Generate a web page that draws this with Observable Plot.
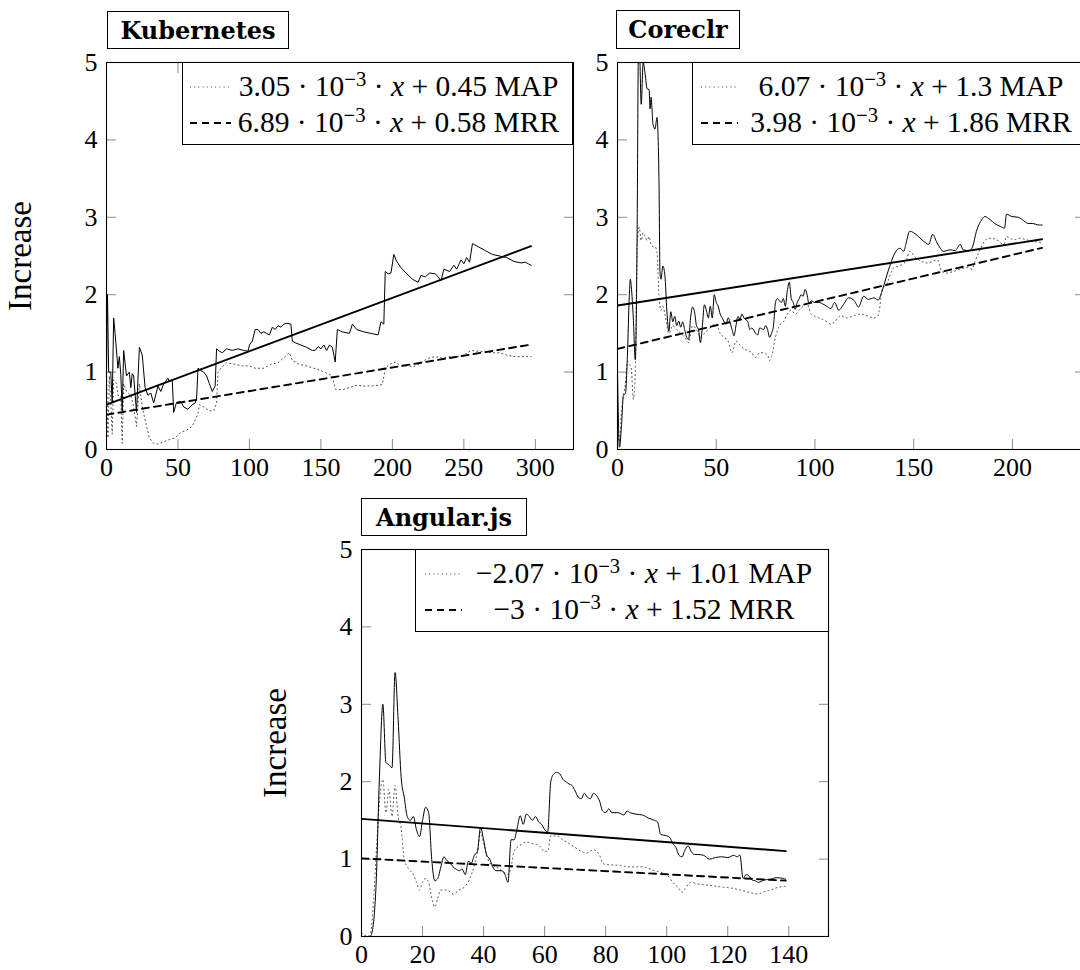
<!DOCTYPE html>
<html><head><meta charset="utf-8">
<script src="https://cdn.jsdelivr.net/npm/d3@7"></script>
<script src="https://cdn.jsdelivr.net/npm/@observablehq/plot@0.6"></script>
<style>
html,body{margin:0;padding:0;overflow:hidden;background:#fff;}
#root{position:relative;width:1080px;height:970px;overflow:hidden;font-family:"Liberation Serif",serif;color:#000;}
.panel{position:absolute;width:600px;height:500px;}
.panel g[aria-label="y-axis label"] text{font-size:33px;}
.title{position:absolute;border:1.2px solid #000;font-family:"DejaVu Serif",serif;font-weight:bold;font-size:24px;display:flex;align-items:center;justify-content:center;box-sizing:border-box;background:#fff;}
.legend{position:absolute;border:1.2px solid #000;background:#fff;box-sizing:border-box;font-size:29.5px;}
.legend .sample{position:absolute;}
.legend .txt{position:absolute;text-align:center;white-space:nowrap;line-height:36px;height:36px;}
.legend sup{font-size:0.7em;vertical-align:0;position:relative;top:-0.5em;line-height:0;}
</style>
</head><body><div id="root"></div>
<script>
// ---------- data ----------
const kubernetesTicks = [0, 50, 100, 150, 200, 250, 300];
const coreclrTicks = [0, 50, 100, 150, 200];
const angularTicks = [0, 20, 40, 60, 80, 100, 120, 140];
const yTicks = [0, 1, 2, 3, 4, 5];

const kubernetesMRR = [[0,1.0],[0.7,2.0],[1.5,1.0],[3,1.0],[4,0.6],[5,1.7],[6,1.5],[8,1.05],[9,1.2],[10,0.97],[11,0.5],[12,1.28],[14,0.95],[16,1.0],[17,0.8],[18,0.98],[19,0.95],[21,0.48],[23,1.32],[25,1.22],[27,0.8],[29,0.7],[31,0.73],[33,0.6],[36,0.82],[38,0.75],[40,0.85],[43,0.92],[44,0.88],[46,0.9],[47,0.48],[49,0.61],[52,0.62],[54,0.55],[57,0.52],[60,0.58],[62,0.6],[63,0.65],[64,1.05],[66,1.02],[68,1.0],[70,0.95],[72,0.85],[74,0.75],[76,0.82],[77,1.3],[79,1.27],[81,1.25],[84,1.3],[88,1.28],[92,1.3],[96,1.28],[99,1.27],[100,1.35],[102,1.4],[104,1.55],[106,1.55],[108,1.5],[110,1.52],[112,1.5],[114,1.48],[116,1.58],[118,1.55],[120,1.6],[122,1.58],[124,1.62],[126,1.63],[129,1.62],[130,1.4],[132,1.38],[136,1.35],[140,1.32],[144,1.28],[146,1.28],[148,1.33],[150,1.3],[152,1.35],[154,1.28],[156,1.35],[158,1.32],[160,1.13],[161.5,1.55],[165,1.52],[170,1.5],[172,1.62],[175,1.55],[180,1.52],[185,1.5],[190,1.48],[192,1.65],[194,1.62],[195,2.3],[197,2.27],[199,2.28],[201,2.52],[203,2.43],[206,2.35],[210,2.27],[214,2.2],[218,2.16],[220,2.25],[223,2.23],[226,2.28],[230,2.27],[232,2.23],[234,2.18],[236,2.33],[240,2.3],[243,2.38],[245,2.33],[248,2.45],[250,2.4],[252,2.48],[254,2.42],[256,2.66],[260,2.62],[265,2.57],[270,2.52],[275,2.5],[280,2.48],[285,2.43],[290,2.41],[293,2.42],[295,2.4],[297,2.38]];
const kubernetesMAP = [[0,1.0],[1,0.15],[2,0.95],[3,0.6],[4,0.2],[5,0.9],[7,0.85],[8,0.7],[10,0.7],[11,0.08],[12,0.85],[14,0.75],[17,0.7],[19,0.55],[21,0.3],[23,0.85],[25,0.55],[28,0.3],[30,0.15],[33,0.08],[36,0.07],[40,0.1],[44,0.13],[48,0.15],[52,0.22],[56,0.25],[60,0.3],[64,0.46],[65,0.58],[68,0.55],[72,0.5],[75,0.5],[77,0.6],[78,1.0],[80,1.05],[84,1.12],[90,1.1],[95,1.08],[100,1.08],[104,1.05],[110,1.05],[115,1.1],[120,1.12],[125,1.2],[128,1.25],[130,1.15],[135,1.1],[140,1.08],[145,1.05],[150,1.02],[155,0.98],[158,0.95],[160,0.78],[165,0.77],[170,0.8],[175,0.83],[180,0.82],[185,0.82],[190,0.83],[193,0.84],[195,1.05],[198,1.1],[202,1.13],[206,1.08],[210,1.08],[215,1.07],[220,1.12],[225,1.18],[230,1.2],[235,1.18],[240,1.2],[245,1.2],[250,1.22],[255,1.28],[260,1.27],[265,1.26],[270,1.25],[275,1.25],[280,1.22],[285,1.2],[290,1.2],[297,1.2]];
const kubernetesFitMAP = [3.05e-3, 0.45];
const kubernetesFitMRR = [6.89e-3, 0.58];
const kubernetesLegend = ["3.05 · 10<sup>−3</sup> · <i>x</i> + 0.45 MAP", "6.89 · 10<sup>−3</sup> · <i>x</i> + 0.58 MRR"];

const coreclrMRR = [[0,1.0],[1,0.03],[2,0.3],[3,0.7],[4,0.72],[5,1.2],[6,2.0],[6.5,2.2],[7,2.1],[8,1.7],[9,1.16],[10,3.0],[10.5,5.0],[11,5.3],[12,4.46],[13,5.0],[14,4.85],[15,4.66],[16,4.65],[16.5,4.4],[17,4.55],[18,4.2],[19,4.14],[20,4.29],[21,3.5],[21.5,2.3],[22,2.2],[23,2.37],[24,2.25],[25,1.79],[26,1.53],[27,1.78],[28,1.65],[29,1.72],[30,1.6],[31,1.66],[32,1.58],[33,1.65],[34,1.55],[35,1.45],[36,1.42],[37,1.7],[38,1.84],[39,1.78],[40,1.6],[41,1.55],[42,1.38],[43,1.6],[44,1.87],[45,1.8],[46,1.7],[47,1.85],[48,1.7],[49,2.0],[50,1.9],[51,1.85],[52,1.75],[53,1.7],[55,1.62],[56,1.7],[58,1.55],[59,1.47],[60,1.6],[61,1.72],[62,1.68],[63,1.75],[64,1.7],[66,1.65],[67,1.55],[68,1.57],[70,1.5],[71,1.48],[72,1.57],[74,1.55],[75,1.6],[76,1.55],[77,1.45],[78,1.5],[79,1.6],[80,1.9],[81,1.95],[82,1.92],[83,1.9],[84,1.95],[85,1.85],[86,2.05],[87,2.16],[88,1.95],[89,1.9],[90,1.81],[91,1.9],[92,1.95],[93,2.0],[94,1.98],[95,2.07],[96,2.0],[97,1.88],[98,1.92],[100,1.9],[102,1.9],[104,1.88],[106,1.85],[108,1.82],[110,1.9],[112,1.8],[114.6,1.88],[117,1.96],[120,1.92],[122,1.84],[124.7,1.98],[127,1.94],[130,1.96],[132,1.93],[134,2.05],[136.5,2.26],[139,2.45],[140.5,2.54],[143,2.6],[145,2.56],[146,2.65],[148,2.82],[150,2.8],[152.5,2.75],[155,2.69],[157.6,2.65],[159.6,2.78],[161.8,2.67],[163.5,2.6],[165,2.56],[168.5,2.58],[171,2.57],[173.6,2.65],[175,2.58],[178,2.57],[179.5,2.6],[182,2.84],[184.5,2.97],[186,3.01],[188.7,2.97],[191,2.92],[194,2.88],[196,2.86],[197,3.04],[199.7,3.01],[203,3.0],[205,2.97],[208,2.92],[210,2.92],[213.6,2.9],[215,2.9]];
const coreclrMAP = [[0,0.3],[1,0.1],[2,0.5],[3,0.7],[4,0.85],[5,1.14],[6,1.1],[7,1.05],[8,0.65],[9,1.0],[10,2.65],[11,2.87],[12,2.7],[13,2.8],[14,2.75],[15,2.7],[16,2.75],[17,2.65],[18,2.62],[19,2.62],[20,2.55],[21,2.0],[22,1.8],[23,1.85],[24,1.75],[25,1.6],[26,1.5],[28,1.6],[30,1.55],[32,1.5],[34,1.45],[36,1.38],[38,1.6],[40,1.55],[42,1.45],[44,1.5],[46,1.55],[48,1.6],[50,1.62],[52,1.5],[54,1.45],[56,1.4],[58,1.25],[60,1.4],[62,1.35],[64,1.3],[66,1.28],[68,1.25],[70,1.19],[72,1.25],[74,1.25],[76,1.22],[77,1.15],[78,1.2],[80,1.45],[82,1.6],[84,1.65],[86,1.75],[88,1.8],[90,1.75],[92,1.8],[94,1.85],[96,1.88],[98,1.75],[100,1.72],[102,1.7],[104,1.68],[106,1.65],[108,1.62],[110,1.65],[113,1.73],[116,1.7],[120,1.73],[123,1.75],[126,1.73],[130,1.7],[132,1.73],[134,2.05],[136.5,2.15],[140,2.35],[142.5,2.37],[146,2.43],[148,2.56],[151,2.48],[154,2.43],[157,2.41],[159.5,2.43],[162,2.45],[164.3,2.3],[167,2.28],[170,2.3],[173.6,2.33],[177,2.35],[179.5,2.33],[181,2.43],[184,2.6],[186.5,2.71],[189,2.73],[192,2.71],[195.6,2.65],[197,2.75],[200.5,2.71],[204,2.73],[207,2.71],[210.5,2.69],[215,2.67]];
const coreclrFitMAP = [6.07e-3, 1.3];
const coreclrFitMRR = [3.98e-3, 1.86];
const coreclrLegend = ["6.07 · 10<sup>−3</sup> · <i>x</i> + 1.3 MAP", "3.98 · 10<sup>−3</sup> · <i>x</i> + 1.86 MRR"];

const angularMRR = [[3,0.0],[4,0.2],[5,0.9],[5.5,1.6],[6,2.2],[7,3.0],[8,2.25],[9,2.22],[10,2.18],[11,3.41],[12,2.8],[13,2.05],[14,1.8],[15,1.55],[16,1.5],[17,1.55],[18,1.38],[19,1.29],[20,1.5],[21,1.67],[22,1.6],[23,1.0],[24,0.72],[25,0.75],[26,0.9],[27,1.03],[28,0.98],[29,0.95],[30,0.9],[31,0.87],[32,0.85],[33,0.87],[34,0.8],[35,0.97],[36,0.95],[37,1.05],[38,1.1],[39,1.41],[40,1.25],[41,1.05],[42,1.0],[43,0.9],[44,0.85],[46,0.85],[47,0.8],[48,0.7],[49,1.25],[50,1.25],[51,1.4],[52,1.56],[53,1.45],[54,1.58],[55,1.55],[56,1.5],[57,1.55],[58,1.48],[59,1.45],[60,1.38],[61,1.35],[62,2.0],[63,2.1],[64,2.12],[65,2.1],[66,2.03],[67,2.0],[68,1.97],[69,1.95],[70,1.88],[71,1.8],[72,1.78],[73,1.85],[74,1.8],[75,1.78],[76,1.85],[77,1.82],[78,1.75],[79,1.62],[80,1.6],[81,1.65],[82,1.6],[84,1.6],[86,1.57],[87,1.62],[88,1.6],[90,1.58],[92,1.57],[94,1.53],[96,1.5],[97,1.48],[98,1.32],[100,1.3],[101,1.28],[102,1.2],[103,1.15],[104,1.05],[105,1.03],[106,1.12],[107,1.17],[108,1.1],[109,1.06],[110,1.06],[112,1.05],[114,1.0],[116,1.02],[118,1.03],[120,1.02],[122,1.05],[123,1.03],[124,1.05],[125,0.75],[126,0.8],[127,0.78],[128,0.73],[129,0.72],[130,0.7],[132,0.73],[134,0.74],[136,0.76],[138,0.75],[139,0.74]];
const angularMAP = [[0,0.05],[2,0.0],[3,0.05],[4,0.5],[5,1.2],[6,1.8],[7,2.03],[8,1.6],[9,1.9],[10,1.55],[11,1.95],[12,1.55],[13,1.4],[14,1.0],[15,0.9],[16,0.85],[17,0.8],[18,0.7],[19,0.6],[20,0.7],[21,0.75],[22,0.7],[23,0.5],[24,0.38],[25,0.5],[26,0.6],[28,0.6],[30,0.55],[32,0.6],[34,0.65],[36,0.8],[38,1.1],[39,1.35],[40,1.2],[42,0.95],[44,0.9],[46,0.85],[48,0.8],[49,0.9],[50,1.1],[52,1.18],[54,1.22],[56,1.2],[58,1.18],[60,1.1],[61,1.1],[62,1.3],[64,1.3],[66,1.25],[68,1.2],[70,1.15],[72,1.1],[74,1.08],[76,1.12],[78,1.05],[79,0.95],[80,0.93],[84,0.92],[88,0.9],[92,0.9],[94,0.88],[96,0.85],[98,0.83],[100,0.8],[102,0.7],[104,0.62],[105,0.57],[106,0.62],[108,0.7],[110,0.68],[114,0.66],[118,0.64],[122,0.62],[124,0.6],[126,0.58],[128,0.56],[130,0.55],[132,0.58],[134,0.6],[136,0.63],[139,0.65]];
const angularFitMAP = [-2.07e-3, 1.01];
const angularFitMRR = [-3e-3, 1.52];
const angularLegend = ["−2.07 · 10<sup>−3</sup> · <i>x</i> + 1.01 MAP", "−3 · 10<sup>−3</sup> · <i>x</i> + 1.52 MRR"];

// ---------- layout ----------
const panels = [
  {title:"Kubernetes", mrr:kubernetesMRR, map:kubernetesMAP, fitMAP:kubernetesFitMAP, fitMRR:kubernetesFitMRR, legend:kubernetesLegend, ticks:kubernetesTicks,
   xEnd:297, xmax:326.7, curve:"linear", ylabel:"Increase",
   pos:{left:0, top:0, ml:106}, titleBox:{left:107, top:11, width:182, height:38},
   legendBox:{left:182, top:62, width:391, height:83, sampleLeft:7, sampleWidth:41, textLeft:50, textWidth:331}},
  {title:"Coreclr", mrr:coreclrMRR, map:coreclrMAP, fitMAP:coreclrFitMAP, fitMRR:coreclrFitMRR, legend:coreclrLegend, ticks:coreclrTicks,
   xEnd:215, xmax:236.5, curve:"monotone-x", ylabel:null,
   pos:{left:540, top:0, ml:77}, titleBox:{left:616, top:10, width:124, height:39},
   legendBox:{left:692, top:62, width:392, height:83, sampleLeft:8, sampleWidth:37, textLeft:48, textWidth:340}},
  {title:"Angular.js", mrr:angularMRR, map:angularMAP, fitMAP:angularFitMAP, fitMRR:angularFitMRR, legend:angularLegend, ticks:angularTicks,
   xEnd:139, xmax:153, curve:"monotone-x", ylabel:"Increase",
   pos:{left:250, top:487, ml:111}, titleBox:{left:361, top:498, width:166, height:38},
   legendBox:{left:415, top:549, width:414, height:83, sampleLeft:9, sampleWidth:37, textLeft:50, textWidth:356}}
];

const root = document.getElementById("root");
const FW = 467; // frame width

function fitLine(fit, xEnd) {
  return [0, xEnd].map(x => ({x, y: fit[0] * x + fit[1]}));
}

for (const p of panels) {
  const W = 600, H = 500;
  const gray = "#8a8a8a";
  const svg = Plot.plot({
    width: W, height: H,
    marginLeft: p.pos.ml, marginRight: W - p.pos.ml - FW, marginTop: 62, marginBottom: 51,
    style: {background: "transparent", maxWidth: "none", fontFamily: "'Liberation Serif', serif", fontSize: "26px", overflow: "visible"},
    x: {domain: [0, p.xmax]},
    y: {domain: [0, 5]},
    marks: [
      Plot.axisX({anchor: "bottom", ticks: p.ticks, tickSize: -10, stroke: gray, strokeWidth: 1, tickFormat: () => "", label: null}),
      Plot.axisX({anchor: "top", ticks: p.ticks, tickSize: -10, stroke: gray, strokeWidth: 1, tickFormat: () => "", label: null}),
      Plot.axisY({anchor: "left", ticks: yTicks, tickSize: -10, stroke: gray, strokeWidth: 1, tickFormat: () => "", label: null}),
      Plot.axisY({anchor: "right", ticks: yTicks, tickSize: -10, stroke: gray, strokeWidth: 1, tickFormat: () => "", label: null}),
      Plot.axisX({anchor: "bottom", ticks: p.ticks, tickSize: 0, tickPadding: 8, fontSize: 26, fill: "#000", tickFormat: d => String(d), label: null}),
      Plot.axisY({anchor: "left", ticks: yTicks, tickSize: 0, tickPadding: 9, fontSize: 26, fill: "#000", tickFormat: d => String(d), label: null}),
      ...(p.ylabel ? [Plot.axisY({anchor: "left", ticks: [], tickSize: 0, fontSize: 33, fill: "#000",
        label: p.ylabel, labelAnchor: "center", labelArrow: "none", labelOffset: 99})] : []),
      Plot.line(p.map, {x: d => d[0], y: d => d[1], stroke: "#444", strokeWidth: 1, strokeDasharray: "1,3.2", curve: p.curve, clip: true}),
      Plot.line(p.mrr, {x: d => d[0], y: d => d[1], stroke: "#000", strokeWidth: 1, curve: p.curve, clip: true}),
      Plot.line(fitLine(p.fitMAP, p.xEnd), {x: "x", y: "y", stroke: "#000", strokeWidth: 1.9, strokeDasharray: "7,5", clip: true}),
      Plot.line(fitLine(p.fitMRR, p.xEnd), {x: "x", y: "y", stroke: "#000", strokeWidth: 1.9, clip: true}),
      Plot.frame({stroke: "#000", strokeWidth: 1.1})
    ]
  });
  const wrap = document.createElement("div");
  wrap.className = "panel";
  wrap.style.left = p.pos.left + "px";
  wrap.style.top = p.pos.top + "px";
  wrap.appendChild(svg);
  root.appendChild(wrap);

  // title box
  const t = document.createElement("div");
  t.className = "title";
  Object.assign(t.style, {left: p.titleBox.left + "px", top: p.titleBox.top + "px", width: p.titleBox.width + "px", height: p.titleBox.height + "px"});
  t.textContent = p.title;
  root.appendChild(t);

  // legend
  const L = p.legendBox;
  const lg = document.createElement("div");
  lg.className = "legend";
  Object.assign(lg.style, {left: L.left + "px", top: L.top + "px", width: L.width + "px", height: L.height + "px"});
  const styles = [
    {stroke: "#444", dash: "1,3.2", width: 1},
    {stroke: "#000", dash: "7,5", width: 1.9}
  ];
  p.legend.forEach((txt, i) => {
    const rowTop = 5 + i * 36;
    const s = d3.create("svg").attr("class", "sample").attr("width", L.sampleWidth).attr("height", 10)
      .style("left", L.sampleLeft + "px").style("top", (rowTop + 14) + "px");
    s.append("line").attr("x1", 0).attr("x2", L.sampleWidth).attr("y1", 5).attr("y2", 5)
      .attr("stroke", styles[i].stroke).attr("stroke-width", styles[i].width).attr("stroke-dasharray", styles[i].dash);
    lg.appendChild(s.node());
    const d = document.createElement("div");
    d.className = "txt";
    Object.assign(d.style, {left: L.textLeft + "px", width: L.textWidth + "px", top: rowTop + "px"});
    d.innerHTML = txt;
    lg.appendChild(d);
  });
  root.appendChild(lg);
}
</script>
</body></html>
